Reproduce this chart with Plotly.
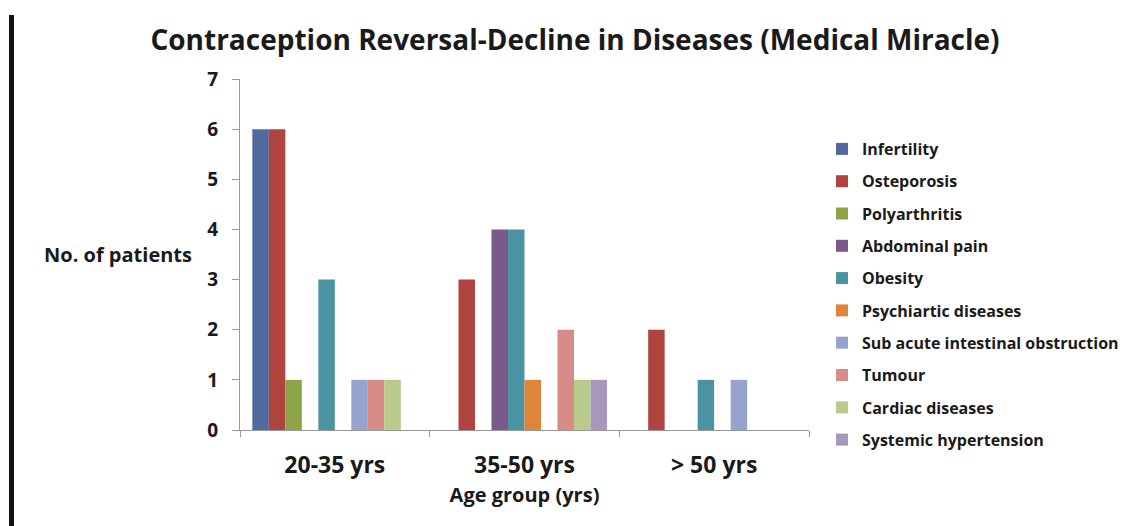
import plotly.graph_objects as go

categories = ["20-35 yrs", "35-50 yrs", "> 50 yrs"]
diseases = ["Infertility", "Osteporosis", "Polyarthritis", "Abdominal pain", "Obesity",
            "Psychiartic diseases", "Sub acute intestinal obstruction", "Tumour",
            "Cardiac diseases", "Systemic hypertension"]
values = {
    "Infertility": [6, 0, 0],
    "Osteporosis": [6, 3, 2],
    "Polyarthritis": [1, 0, 0],
    "Abdominal pain": [0, 4, 0],
    "Obesity": [3, 4, 1],
    "Psychiartic diseases": [0, 1, 0],
    "Sub acute intestinal obstruction": [1, 0, 1],
    "Tumour": [1, 2, 0],
    "Cardiac diseases": [1, 1, 0],
    "Systemic hypertension": [0, 1, 0],
}
colors = ["#506aa0", "#b0443f", "#8aa446", "#7a5a88", "#4b92a2",
          "#e0843c", "#97a3cf", "#d88c88", "#b7cb8a", "#a897bd"]

FONT = "Open Sans"
TXT = "#1a1a1a"
fig = go.Figure()
for i, d in enumerate(diseases):
    fig.add_trace(go.Bar(x=categories, y=values[d], name=d,
                         marker=dict(color=colors[i], line=dict(width=0)),
                         legendgroup=d))

OFF = 8  # page body margin
W, H = 1129 - OFF, 526 - OFF
L = 240 - OFF
Rpx = 809 - OFF
T = 79 - OFF
Bpx = 430 - OFF
R, B = W - Rpx, H - Bpx
pw, ph = Rpx - L, Bpx - T

def px_x(p):  # screen px -> paper
    return (p - OFF - L) / pw

def px_y(p):
    return (Bpx - (p - OFF)) / ph

def bold(size):
    return dict(size=size, family=FONT, color=TXT, weight="bold")

fig.update_layout(
    width=W, height=H,
    margin=dict(l=L, r=R, t=T, b=B, autoexpand=False),
    paper_bgcolor="white", plot_bgcolor="white",
    barmode="group", bargap=0.13, bargroupgap=0,
    font=dict(family=FONT, color=TXT),
    title=dict(text="Contraception Reversal-Decline in Diseases (Medical Miracle)",
               x=(575 - OFF) / W, xanchor="center", y=1 - (40 - OFF) / H, yanchor="middle",
               font=bold(28)),
    xaxis=dict(showline=True, linecolor="#999999", linewidth=1.3,
               ticks="outside", tickson="boundaries", ticklen=6, tickcolor="#999999",
               tickfont=bold(23), ticklabelstandoff=14,
               showgrid=False, zeroline=False,
               title=dict(text="Age group (yrs)", standoff=9, font=bold(20))),
    yaxis=dict(range=[0, 7], dtick=1, showline=True, linecolor="#999999", linewidth=1.3,
               ticks="outside", ticklen=7, tickcolor="#999999",
               tickfont=bold(19), ticklabelstandoff=10,
               showgrid=False, zeroline=False),
    legend=dict(x=px_x(822), y=px_y(132), xanchor="left", yanchor="top",
                font=bold(16), tracegroupgap=8.5, itemwidth=30,
                bgcolor="rgba(0,0,0,0)"),
    showlegend=True,
)

fig.add_annotation(text="No. of patients", xref="paper", yref="paper",
                   x=px_x(194), y=px_y(255), xanchor="right", yanchor="middle",
                   showarrow=False, font=bold(20))

fig.add_shape(type="line", xref="paper", yref="paper",
              x0=px_x(11.5), x1=px_x(11.5), y0=px_y(15), y1=px_y(530),
              line=dict(color="#111111", width=5))

fig.write_html("out.html")
